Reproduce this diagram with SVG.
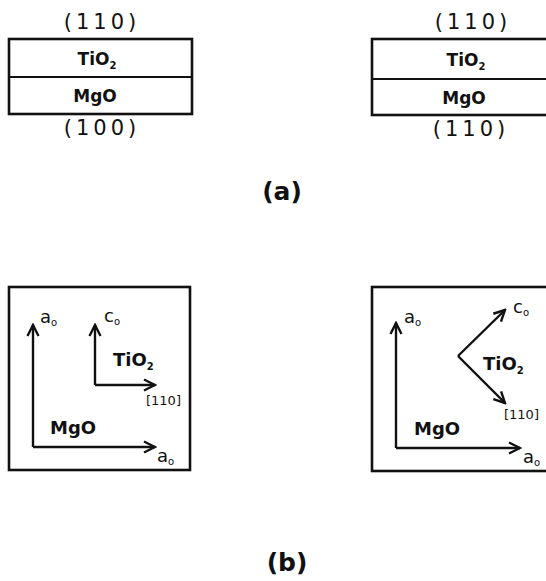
<svg xmlns="http://www.w3.org/2000/svg" width="546" height="581" viewBox="0 0 546 581">
<defs>
<style>
.t{font-family:"DejaVu Sans","Liberation Sans",sans-serif;fill:#111;font-weight:bold;}
.lbl{font-size:17px;text-anchor:middle;}
.bl{font-size:18px;}
.mil{font-size:21px;text-anchor:middle;letter-spacing:4px;font-weight:normal;}
.ax{font-size:18px;font-weight:normal;}
.dir{font-size:13px;font-weight:normal;}
.cap{font-size:25px;text-anchor:middle;}
.sub{font-size:10px;}
.box{fill:none;stroke:#111;stroke-width:2.6;}
.ln{fill:none;stroke:#111;stroke-width:2.2;}
.arr{fill:none;stroke:#111;stroke-width:2.4;marker-end:url(#ah);}
</style>
<marker id="ah" viewBox="0 0 14 14" refX="12" refY="7" markerWidth="14" markerHeight="14" markerUnits="userSpaceOnUse" orient="auto">
<path d="M1,1.5 L12,7 L1,12.5" fill="none" stroke="#111" stroke-width="2.4"/>
</marker>
</defs>
<rect width="546" height="581" fill="#fff"/>

<g id="a-left">
<rect class="box" x="9" y="39" width="183" height="75"/>
<line class="ln" x1="9" y1="77" x2="192" y2="77"/>
<text class="t mil" x="102" y="29">(110)</text>
<text class="t lbl" x="97" y="65">TiO<tspan class="sub" dy="4">2</tspan></text>
<text class="t lbl" x="95" y="102">MgO</text>
<text class="t mil" x="102" y="135">(100)</text>
</g>

<g id="a-right">
<rect class="box" x="372" y="39" width="180" height="76"/>
<line class="ln" x1="372" y1="79" x2="546" y2="79"/>
<text class="t mil" x="473" y="29">(110)</text>
<text class="t lbl" x="466" y="66">TiO<tspan class="sub" dy="4">2</tspan></text>
<text class="t lbl" x="464" y="104">MgO</text>
<text class="t mil" x="471" y="136">(110)</text>
</g>

<g id="label-a">
<text class="t cap" x="282" y="200">(a)</text>
</g>

<g id="b-left">
<rect class="box" x="9" y="287" width="181" height="183"/>
<text class="t ax" x="40" y="323">a<tspan class="sub" dy="3">o</tspan></text>
<text class="t ax" x="104" y="322">c<tspan class="sub" dy="3">o</tspan></text>
<text class="t bl" x="113" y="366">TiO<tspan class="sub" dy="4">2</tspan></text>
<text class="t dir" x="146" y="405">[110]</text>
<text class="t bl" x="50" y="434">MgO</text>
<text class="t ax" x="157" y="462">a<tspan class="sub" dy="3">o</tspan></text>
</g>

<g id="b-right">
<rect class="box" x="372" y="287" width="180" height="184"/>
<text class="t ax" x="404" y="323">a<tspan class="sub" dy="3">o</tspan></text>
<text class="t ax" x="513" y="313">c<tspan class="sub" dy="3">o</tspan></text>
<text class="t bl" x="483" y="370">TiO<tspan class="sub" dy="4">2</tspan></text>
<text class="t dir" x="504" y="419">[110]</text>
<text class="t bl" x="414" y="435">MgO</text>
<text class="t ax" x="523" y="463">a<tspan class="sub" dy="3">o</tspan></text>
</g>

<g id="label-b">
<text class="t cap" x="287" y="571">(b)</text>
</g>

<g id="connectors">
<path class="arr" d="M33,447 L33,325"/>
<path class="arr" d="M33,447 L155,447"/>
<path class="arr" d="M95,385 L95,325"/>
<path class="arr" d="M95,385 L155,385"/>
<path class="arr" d="M396,448 L396,323"/>
<path class="arr" d="M396,448 L520,448"/>
<path class="arr" d="M458,356 L505,310"/>
<path class="arr" d="M458,356 L505,403"/>
</g>
</svg>
